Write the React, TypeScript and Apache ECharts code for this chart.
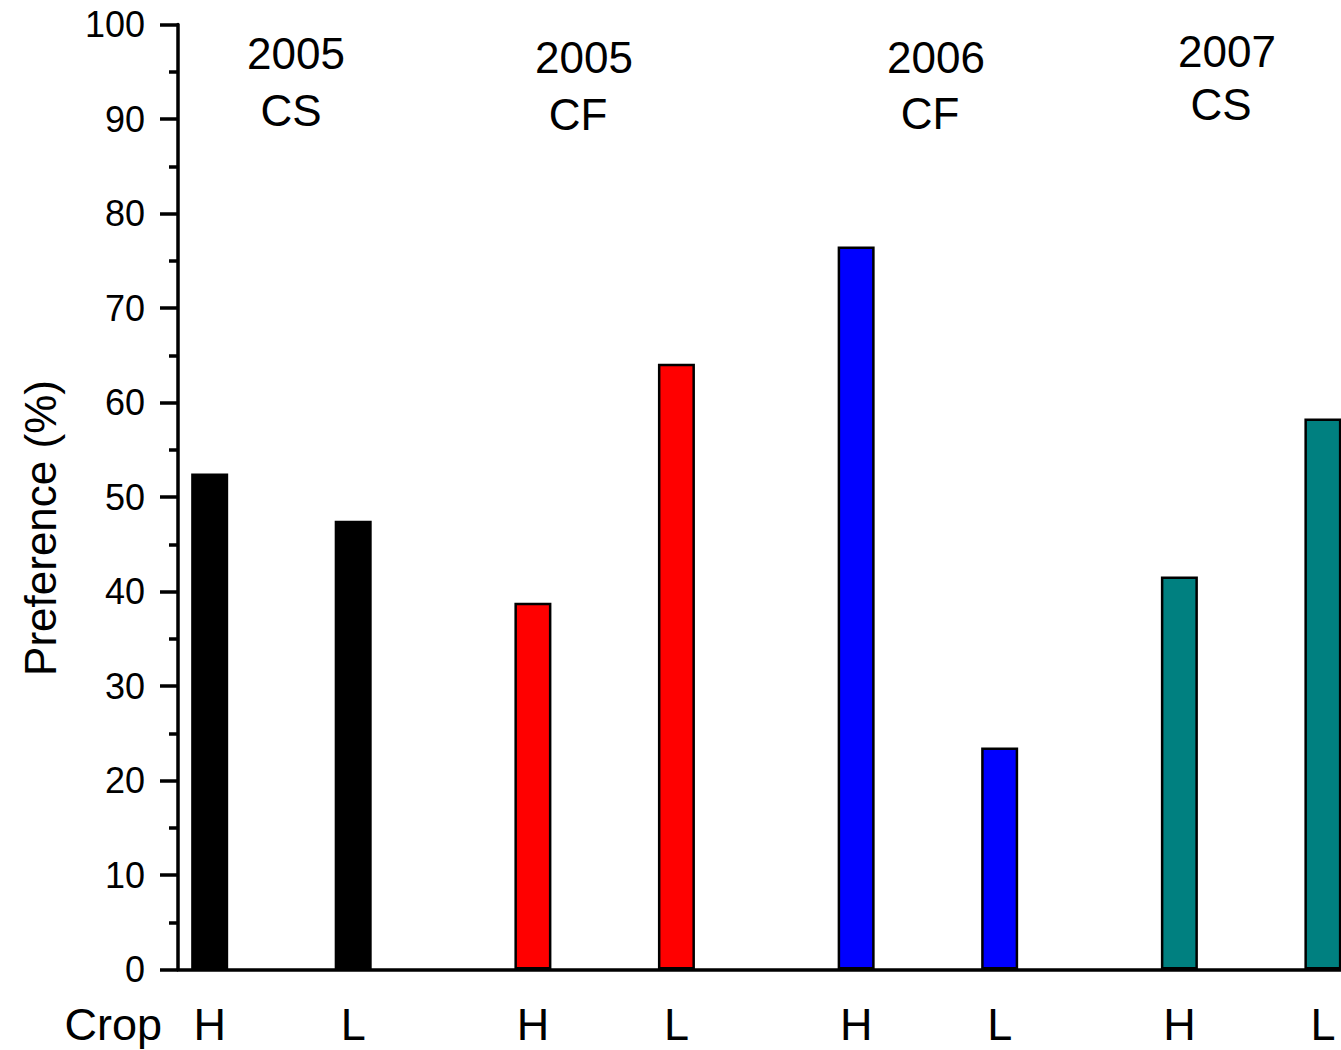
import React, { useEffect, useRef } from "react";
import * as echarts from "echarts";

const groupNames = ["2005 CS", "2005 CF", "2006 CF", "2007 CS"];
const groupYears = ["2005", "2005", "2006", "2007"];
const groupTypes = ["CS", "CF", "CF", "CS"];
const crops = ["H", "L"];
const highValues = [52.5, 38.8, 76.5, 41.6];
const lowValues = [47.5, 64.1, 23.5, 58.3];
const groupColors = ["#000000", "#ff0000", "#0000ff", "#008080"];
const yTicks = [0, 10, 20, 30, 40, 50, 60, 70, 80, 90, 100];

const FONT = "'Liberation Sans', Arial, sans-serif";

export default function App() {
  const ref = useRef<HTMLDivElement>(null);

  useEffect(() => {
    document.body.style.margin = "0";
    document.body.style.overflow = "hidden";
    if (!ref.current) return;
    const chart = echarts.init(ref.current, undefined, { renderer: "svg" });

    const cropOffset = [-0.222, 0.222];
    const valuesByCrop = [highValues, lowValues];
    const barData: any[] = [];
    groupNames.forEach((g, gi) => {
      crops.forEach((c, ci) => {
        barData.push({
          name: g + " " + c,
          value: [gi + cropOffset[ci], valuesByCrop[ci][gi]],
          crop: c,
          itemStyle: { color: groupColors[gi] },
        });
      });
    });

    const labelPos = [
      { x: 296, y1: 53, x2: 291, y2: 110 },
      { x: 584, y1: 57, x2: 578, y2: 114 },
      { x: 936, y1: 57, x2: 930, y2: 113 },
      { x: 1227, y1: 51, x2: 1221, y2: 104 },
    ];
    const graphics: any[] = [];
    groupNames.forEach((_, gi) => {
      const p = labelPos[gi];
      graphics.push({
        type: "text",
        x: p.x,
        y: p.y1,
        style: {
          text: groupYears[gi],
          fontSize: 44,
          fontFamily: FONT,
          fill: "#000",
          align: "center",
          verticalAlign: "middle",
        },
      });
      graphics.push({
        type: "text",
        x: p.x2,
        y: p.y2,
        style: {
          text: groupTypes[gi],
          fontSize: 44,
          fontFamily: FONT,
          fill: "#000",
          align: "center",
          verticalAlign: "middle",
        },
      });
    });
    graphics.push({
      type: "text",
      x: 162,
      y: 1024,
      style: {
        text: "Crop",
        fontSize: 45,
        fontFamily: FONT,
        fill: "#000",
        align: "right",
        verticalAlign: "middle",
      },
    });
    graphics.push({
      type: "text",
      x: 40,
      y: 528,
      rotation: Math.PI / 2,
      style: {
        text: "Preference (%)",
        fontSize: 44,
        fontFamily: FONT,
        fill: "#000",
        align: "center",
        verticalAlign: "middle",
      },
    });

    chart.setOption({
      animation: false,
      backgroundColor: "#ffffff",
      grid: { left: 178, right: 0, top: 24.5, bottom: 80.5, containLabel: false },
      xAxis: {
        type: "value",
        min: -0.32,
        max: 3.278,
        axisLine: { show: true, onZero: false, lineStyle: { color: "#000", width: 3.5 } },
        axisTick: { show: false },
        axisLabel: { show: false },
        splitLine: { show: false },
      },
      yAxis: {
        type: "value",
        min: yTicks[0],
        max: yTicks[yTicks.length - 1],
        interval: 10,
        axisLine: { show: true, onZero: false, lineStyle: { color: "#000", width: 3.5 } },
        axisTick: { show: true, inside: false, length: 18, lineStyle: { color: "#000", width: 3.5 } },
        minorTick: { show: true, splitNumber: 2, length: 9, lineStyle: { color: "#000", width: 3.5 } },
        axisLabel: { show: true, margin: 33, fontSize: 36, fontFamily: FONT, color: "#000" },
        splitLine: { show: false },
      },
      series: [
        {
          type: "bar",
          data: barData,
          barWidth: 37,
          itemStyle: { borderColor: "#000", borderWidth: 2.5 },
          label: {
            show: true,
            position: "bottom",
            distance: 32,
            fontSize: 45,
            fontFamily: FONT,
            color: "#000",
            formatter: (p: any) => p.data.crop,
          },
        },
      ],
      graphic: graphics,
    });

    return () => chart.dispose();
  }, []);

  return <div ref={ref} style={{ width: 1341, height: 1050 }} />;
}
